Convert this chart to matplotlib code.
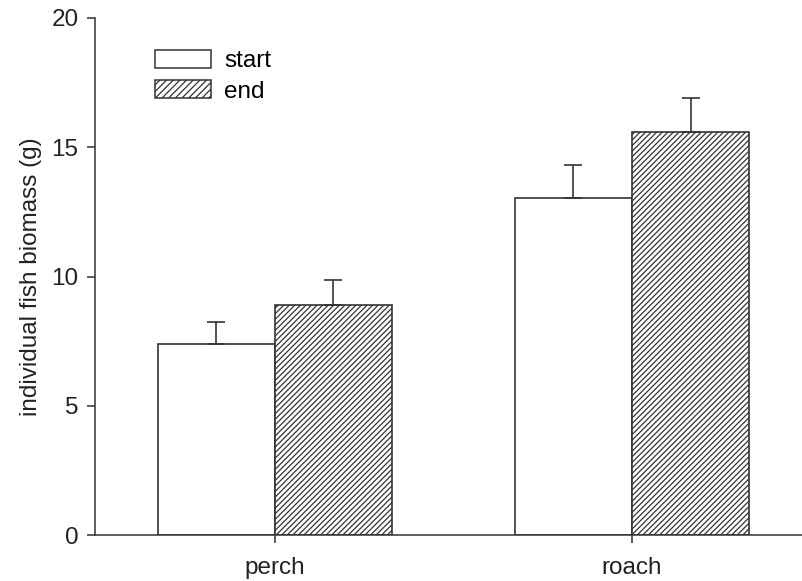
import matplotlib
matplotlib.use("Agg")
import matplotlib.pyplot as plt
import numpy as np
from matplotlib.patches import Patch

species = ["perch", "roach"]
start_mean = [7.39, 13.04]
start_err = [0.85, 1.27]
end_mean = [8.90, 15.59]
end_err = [0.96, 1.31]

plt.rcParams["font.family"] = ["Liberation Sans", "DejaVu Sans"]
plt.rcParams["hatch.linewidth"] = 0.9
plt.rcParams["hatch.color"] = "#333333"

ec = "#333333"
fs = 17.5
fig = plt.figure(figsize=(8.03, 5.81), dpi=100)
ax = fig.add_axes([95 / 803, 46 / 581, 1 - 95 / 803, 517 / 581])

x = np.arange(len(species))
w = 0.328
ekw = dict(ecolor=ec, elinewidth=1.2, capsize=6.5, capthick=1.2)
ax.bar(x - w / 2, start_mean, w, color="white", edgecolor=ec, linewidth=1.2,
       yerr=[np.zeros(2), start_err], error_kw=ekw, zorder=2)
ax.bar(x + w / 2, end_mean, w, color="white", edgecolor=ec, linewidth=1.2,
       hatch="//////", yerr=[np.zeros(2), end_err], error_kw=ekw, zorder=2)

ax.set_xlim(-0.504, 1.479)
ax.set_ylim(0, 20)
ax.set_yticks([0, 5, 10, 15, 20])
ax.set_xticks(x)
ax.set_xticklabels(species)
for s in ["top", "right"]:
    ax.spines[s].set_visible(False)
for s in ["left", "bottom"]:
    ax.spines[s].set_color(ec)
    ax.spines[s].set_linewidth(1.1)
ax.tick_params(axis="both", direction="out", length=5.8, width=1.1, color=ec,
               labelsize=fs, labelcolor="#222222")
ax.tick_params(axis="x", pad=10)
ax.tick_params(axis="y", pad=6)
ax.set_ylabel("individual fish biomass (g)", fontsize=fs, color="#222222", labelpad=7)

handles = [Patch(facecolor="white", edgecolor=ec, linewidth=1.1, label="start"),
           Patch(facecolor="white", edgecolor=ec, linewidth=1.1, hatch="/////", label="end")]
fig.legend(handles=handles, loc="upper left", bbox_to_anchor=(155 / 803, 1 - 50 / 581),
           frameon=False, fontsize=fs, handlelength=2.3, handleheight=0.75,
           handletextpad=0.55, labelspacing=0.33, borderaxespad=0, borderpad=0)

fig.savefig("out.png", dpi=100, facecolor="white")
